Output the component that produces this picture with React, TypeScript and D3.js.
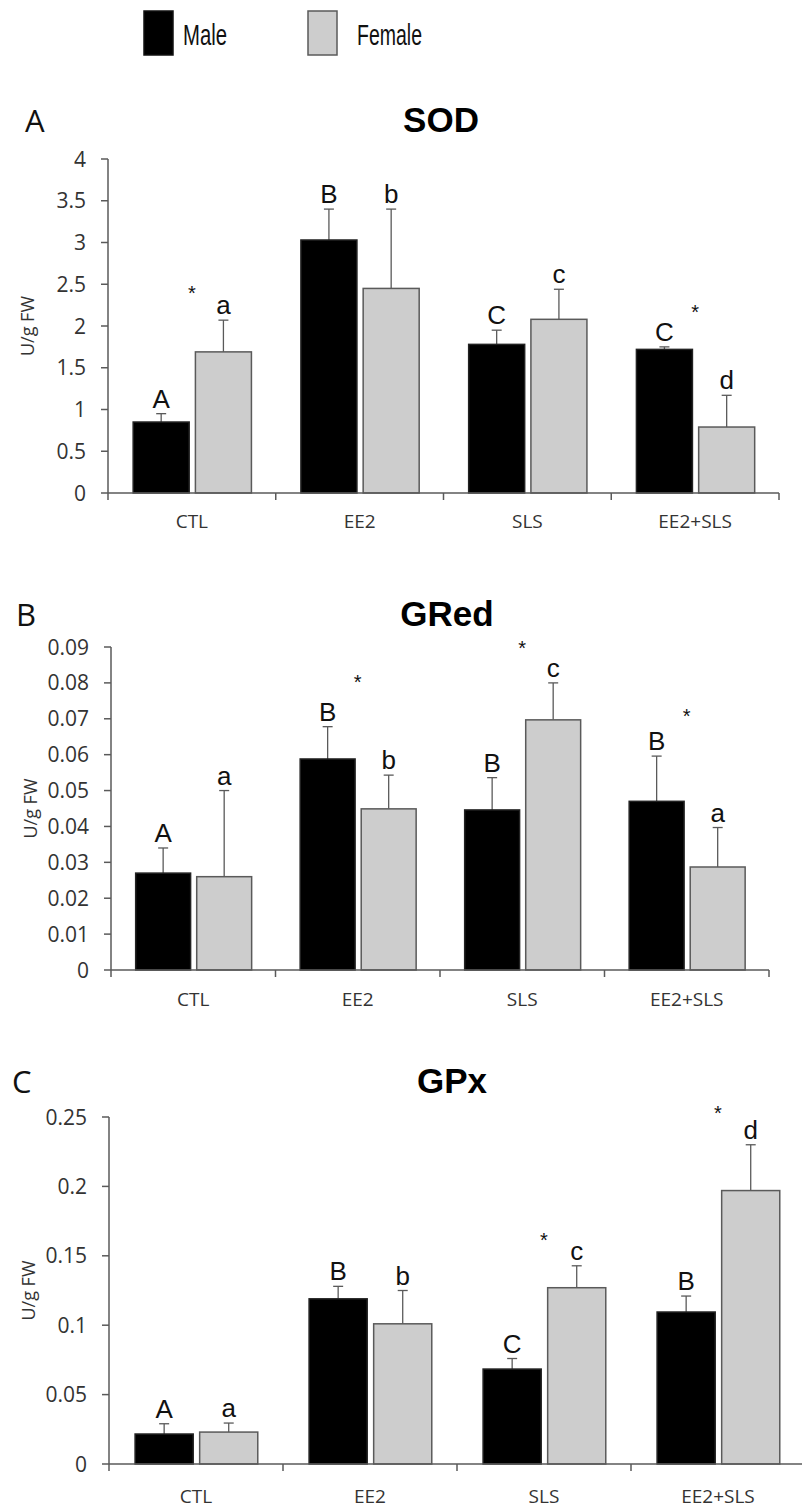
import React from 'react';
import * as d3 from 'd3';

const categories = ['CTL', 'EE2', 'SLS', 'EE2+SLS'];
const series = ['Male', 'Female'];

// SOD
const sodMale = [0.85, 3.03, 1.78, 1.72];
const sodMaleErr = [0.1, 0.37, 0.17, 0.03];
const sodFemale = [1.69, 2.45, 2.08, 0.79];
const sodFemaleErr = [0.38, 0.95, 0.36, 0.38];
const sodMaleLetters = ['A', 'B', 'C', 'C'];
const sodFemaleLetters = ['a', 'b', 'c', 'd'];
const sodStars = [2.43, null, null, 2.2];
const sodTicks = [0, 0.5, 1, 1.5, 2, 2.5, 3, 3.5, 4];

// GRed
const gredMale = [0.027, 0.0588, 0.0446, 0.047];
const gredMaleErr = [0.007, 0.009, 0.009, 0.0126];
const gredFemale = [0.026, 0.0449, 0.0697, 0.0287];
const gredFemaleErr = [0.024, 0.0094, 0.0103, 0.011];
const gredMaleLetters = ['A', 'B', 'B', 'B'];
const gredFemaleLetters = ['a', 'b', 'c', 'a'];
const gredStars = [null, 0.081, 0.0906, 0.0716];
const gredTicks = [0, 0.01, 0.02, 0.03, 0.04, 0.05, 0.06, 0.07, 0.08, 0.09];

// GPx
const gpxMale = [0.0216, 0.119, 0.0684, 0.1095];
const gpxMaleErr = [0.0074, 0.009, 0.0076, 0.0115];
const gpxFemale = [0.023, 0.101, 0.127, 0.197];
const gpxFemaleErr = [0.0065, 0.024, 0.0158, 0.033];
const gpxMaleLetters = ['A', 'B', 'C', 'B'];
const gpxFemaleLetters = ['a', 'b', 'c', 'd'];
const gpxStars = [null, null, 0.1635, 0.255];
const gpxTicks = [0, 0.05, 0.1, 0.15, 0.2, 0.25];

const panels = [
  {
    letter: 'A', title: 'SOD', male: sodMale, maleErr: sodMaleErr, female: sodFemale, femaleErr: sodFemaleErr,
    maleLetters: sodMaleLetters, femaleLetters: sodFemaleLetters, stars: sodStars, ticks: sodTicks,
    x0: 108, x1: 779, yTop: 159, yBottom: 493, titleX: 441, titleY: 132, catY: 521, letterX: 25,
  },
  {
    letter: 'B', title: 'GRed', male: gredMale, maleErr: gredMaleErr, female: gredFemale, femaleErr: gredFemaleErr,
    maleLetters: gredMaleLetters, femaleLetters: gredFemaleLetters, stars: gredStars, ticks: gredTicks,
    x0: 111, x1: 769, yTop: 647, yBottom: 970, titleX: 447, titleY: 626, catY: 999, letterX: 16,
  },
  {
    letter: 'C', title: 'GPx', male: gpxMale, maleErr: gpxMaleErr, female: gpxFemale, femaleErr: gpxFemaleErr,
    maleLetters: gpxMaleLetters, femaleLetters: gpxFemaleLetters, stars: gpxStars, ticks: gpxTicks,
    x0: 109, x1: 805, yTop: 1117, yBottom: 1464, titleX: 452, titleY: 1093, catY: 1496, letterX: 12,
  },
];

const AXIS = '#5a5a5a';
const FEMALE_FILL = '#cdcdcd';
const SANS = 'Open Sans, sans-serif';
const ARIAL = 'Liberation Sans, Arial, sans-serif';
const tickFmt = (d: number) => String(+d.toFixed(3));

const Panel = ({ p }: { p: any }) => {
  const x = d3.scaleBand().domain(categories).range([p.x0, p.x1]).padding(0);
  const w = x.bandwidth();
  const xs = d3.scaleBand().domain(series).range([0.15 * w, 0.855 * w]).paddingInner(0.1);
  const maxTick = p.ticks[p.ticks.length - 1];
  const y = d3.scaleLinear().domain([0, maxTick]).range([p.yBottom, p.yTop]);
  const bw = xs.bandwidth();

  const bars = categories.flatMap((c, i) => [
    { c, s: 'Male', v: p.male[i], e: p.maleErr[i], lab: p.maleLetters[i] },
    { c, s: 'Female', v: p.female[i], e: p.femaleErr[i], lab: p.femaleLetters[i] },
  ]);

  return (
    <g>
      <text x={p.letterX} y={p.titleY} fontFamily={SANS} fontSize="31" fill="#111">{p.letter}</text>
      <text x={p.titleX} y={p.titleY} textAnchor="middle" fontFamily={ARIAL} fontWeight="bold" fontSize="35" fill="#000">{p.title}</text>

      {/* y axis */}
      <line x1={p.x0} x2={p.x0} y1={p.yTop} y2={p.yBottom} stroke={AXIS} strokeWidth="1.5" />
      {p.ticks.map((t: number) => (
        <g key={t}>
          <line x1={p.x0 - 7} x2={p.x0} y1={y(t)} y2={y(t)} stroke={AXIS} strokeWidth="1.5" />
          <text x={p.x0 - 22} y={y(t)} dy="0.36em" textAnchor="end" fontFamily={SANS} fontSize="21" fill="#333">{tickFmt(t)}</text>
        </g>
      ))}
      <text transform={`translate(${p.x0 - 80},${(p.yTop + p.yBottom) / 2}) rotate(-90)`} textAnchor="middle" dy="0.35em"
        fontFamily={SANS} fontSize="18" fill="#333">U/g FW</text>

      {/* bars */}
      {bars.map((b, i) => {
        const bx = (x(b.c) as number) + (xs(b.s) as number);
        const cx = bx + bw / 2;
        const top = y(b.v + b.e);
        return (
          <g key={i}>
            <line x1={cx} x2={cx} y1={y(b.v)} y2={top} stroke={AXIS} strokeWidth="1.3" />
            <line x1={cx - 5} x2={cx + 5} y1={top} y2={top} stroke={AXIS} strokeWidth="1.3" />
            <rect x={bx} y={y(b.v)} width={bw} height={p.yBottom - y(b.v)}
              fill={b.s === 'Male' ? '#000' : FEMALE_FILL} stroke={b.s === 'Male' ? '#222' : AXIS} strokeWidth="1.5" />
            <text x={cx} y={top - 6} textAnchor="middle" fontFamily={ARIAL} fontSize="26" fill="#111">{b.lab}</text>
          </g>
        );
      })}

      {/* significance stars */}
      {p.stars.map((s: number | null, i: number) => s == null ? null : (
        <text key={i} x={(x(categories[i]) as number) + w / 2} y={y(s) + 10} textAnchor="middle"
          fontFamily={ARIAL} fontSize="20" fill="#111">*</text>
      ))}

      {/* x axis */}
      <line x1={p.x0} x2={p.x1} y1={p.yBottom} y2={p.yBottom} stroke={AXIS} strokeWidth="1.5" />
      {[...categories.map(c => x(c) as number), p.x1].map((t, i) => (
        <line key={i} x1={t} x2={t} y1={p.yBottom} y2={p.yBottom + 7} stroke={AXIS} strokeWidth="1.5" />
      ))}
      {categories.map(c => (
        <text key={c} x={(x(c) as number) + w / 2} y={p.catY} dy="0.35em" textAnchor="middle"
          fontFamily={SANS} fontSize="19" fill="#333">{c}</text>
      ))}
    </g>
  );
};

const App = () => {
  const legendItems = [
    { s: series[0], fill: '#000', boxX: 144, textX: 183, len: 44 },
    { s: series[1], fill: FEMALE_FILL, boxX: 308, textX: 357, len: 65 },
  ];
  return (
    <svg width={802} height={1508} style={{ position: 'absolute', left: 0, top: 0, background: '#fff' }}>
      <rect width={802} height={1508} fill="#fff" />
      {legendItems.map(l => (
        <g key={l.s}>
          <rect x={l.boxX} y={11} width={29} height={44} fill={l.fill} stroke={l.s === 'Male' ? '#111' : AXIS} strokeWidth="1.5" />
          <text x={l.textX} y={45} fontFamily={ARIAL} fontSize="30" fill="#111"
            textLength={l.len} lengthAdjust="spacingAndGlyphs">{l.s}</text>
        </g>
      ))}
      {panels.map(p => <Panel key={p.title} p={p} />)}
    </svg>
  );
};

export default App;
